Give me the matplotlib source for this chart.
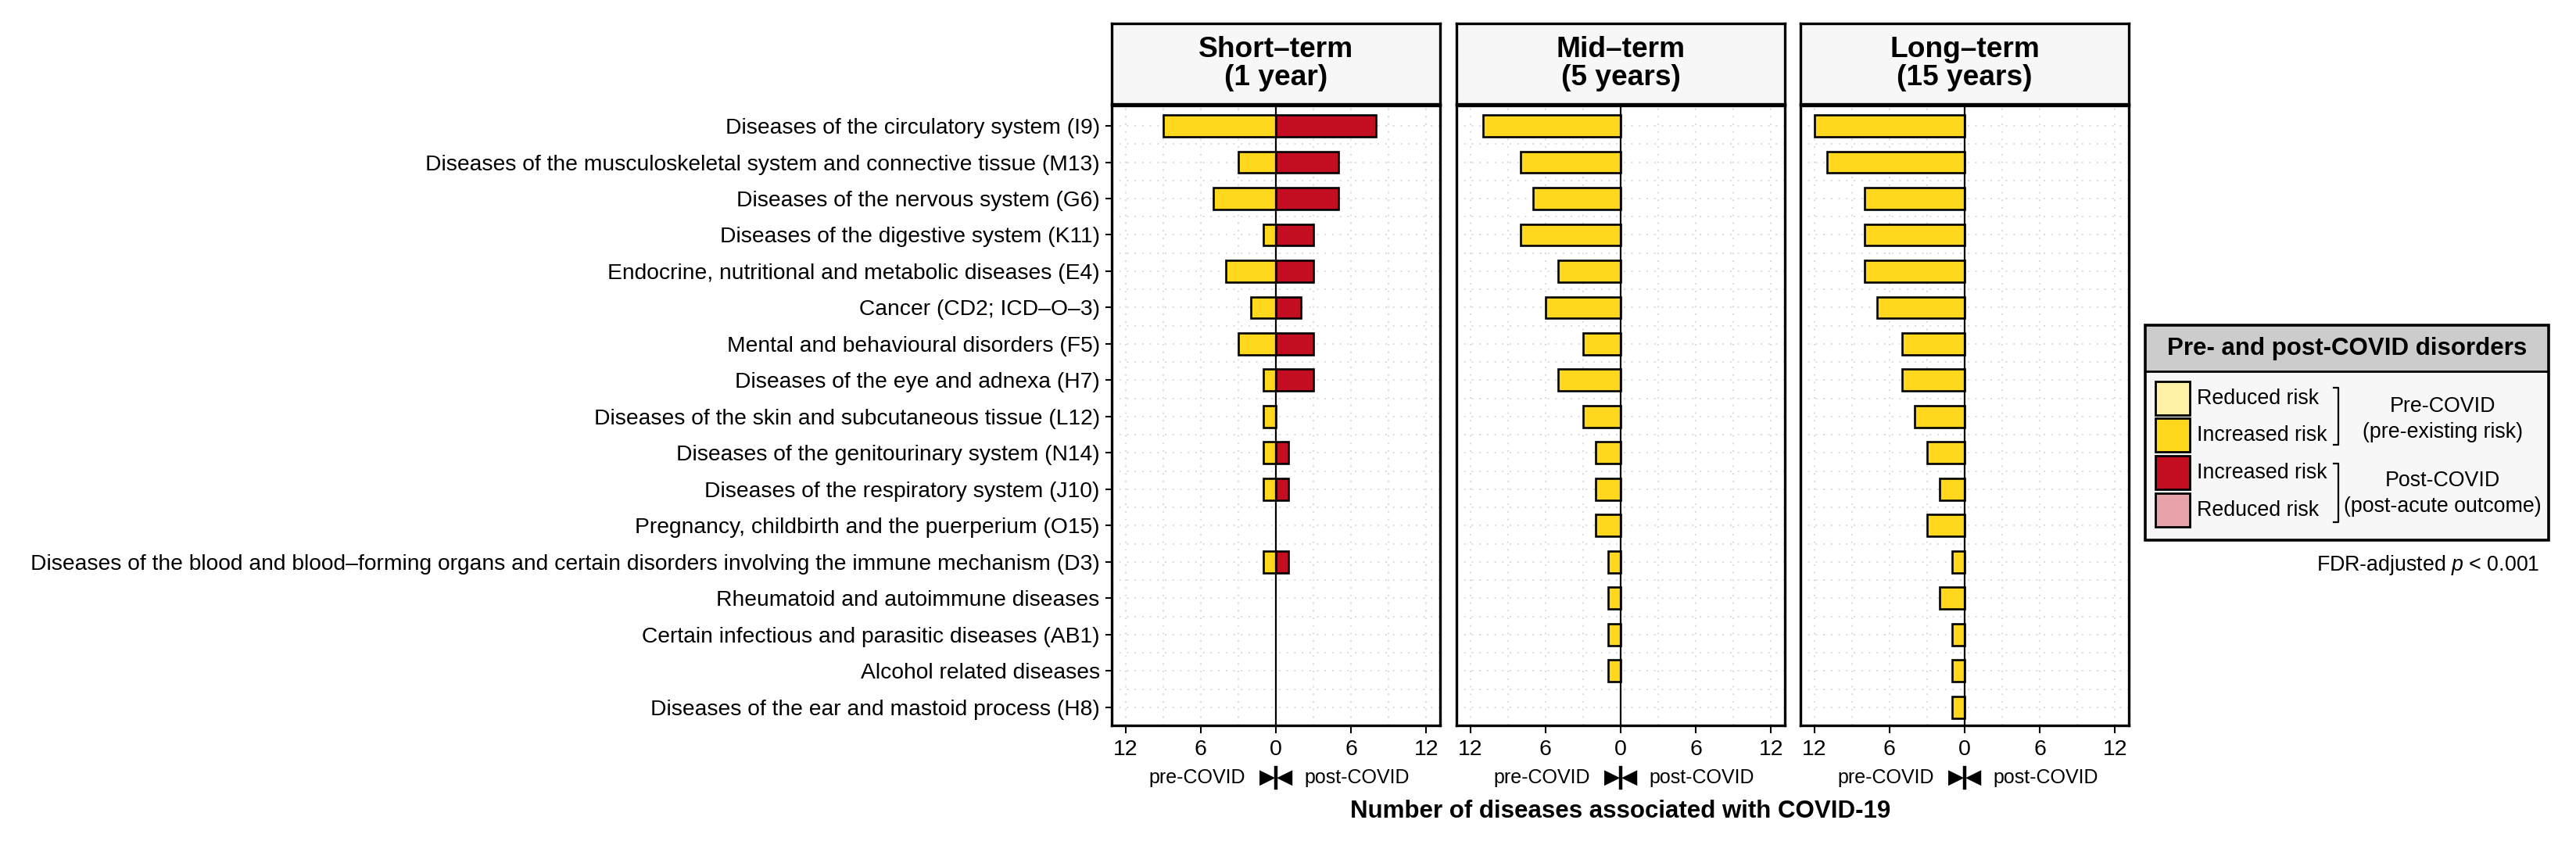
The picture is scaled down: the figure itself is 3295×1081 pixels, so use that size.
import numpy as np
import matplotlib
matplotlib.use("Agg")
import matplotlib.pyplot as plt
from matplotlib.patches import Rectangle
from matplotlib.lines import Line2D
from matplotlib.transforms import blended_transform_factory

plt.rcParams['font.family'] = ['Liberation Sans', 'DejaVu Sans']
plt.rcParams['mathtext.fontset'] = 'custom'
plt.rcParams['mathtext.rm'] = 'Liberation Sans'
plt.rcParams['mathtext.it'] = 'Liberation Sans:italic'

# ---------------- data ----------------
categories = [
    "Diseases of the circulatory system (I9)",
    "Diseases of the musculoskeletal system and connective tissue (M13)",
    "Diseases of the nervous system (G6)",
    "Diseases of the digestive system (K11)",
    "Endocrine, nutritional and metabolic diseases (E4)",
    "Cancer (CD2; ICD\u2013O\u20133)",
    "Mental and behavioural disorders (F5)",
    "Diseases of the eye and adnexa (H7)",
    "Diseases of the skin and subcutaneous tissue (L12)",
    "Diseases of the genitourinary system (N14)",
    "Diseases of the respiratory system (J10)",
    "Pregnancy, childbirth and the puerperium (O15)",
    "Diseases of the blood and blood\u2013forming organs and certain disorders involving the immune mechanism (D3)",
    "Rheumatoid and autoimmune diseases",
    "Certain infectious and parasitic diseases (AB1)",
    "Alcohol related diseases",
    "Diseases of the ear and mastoid process (H8)",
]
panel_titles = ["Short\u2013term\n(1 year)", "Mid\u2013term\n(5 years)", "Long\u2013term\n(15 years)"]
short_pre = [9, 3, 5, 1, 4, 2, 3, 1, 1, 1, 1, 0, 1, 0, 0, 0, 0]
short_post = [8, 5, 5, 3, 3, 2, 3, 3, 0, 1, 1, 0, 1, 0, 0, 0, 0]
mid_pre = [11, 8, 7, 8, 5, 6, 3, 5, 3, 2, 2, 2, 1, 1, 1, 1, 0]
mid_post = [0] * 17
long_pre = [12, 11, 8, 8, 8, 7, 5, 5, 4, 3, 2, 3, 1, 2, 1, 1, 1]
long_post = [0] * 17
x_ticks = [-12, -6, 0, 6, 12]
x_tick_labels = ["12", "6", "0", "6", "12"]

legend_title = "Pre- and post-COVID disorders"
legend_keys = ["Reduced risk", "Increased risk", "Increased risk", "Reduced risk"]
legend_groups = [("Pre-COVID", "(pre-existing risk)"), ("Post-COVID", "(post-acute outcome)")]

# ---------------- style ----------------
c_pre_inc = "#FFD71C"
c_pre_red = "#FFF1A6"
c_post_inc = "#C20E20"
c_post_red = "#E8A2A9"
legend_colors = [c_pre_red, c_pre_inc, c_post_inc, c_post_red]
grid_col = "#DADADA"

W, H = 3295, 1081
fig = plt.figure(figsize=(W / 100, H / 100), dpi=100)

panel_left_px = [1422, 1863, 2303]
panel_w_px = 420
panel_top_px, panel_bot_px = 135, 928
strip_top_px, strip_bot_px = 30, 133

def fx(px):
    return px / W

def fy(py):
    return 1 - py / H

series = [(short_pre, short_post), (mid_pre, mid_post), (long_pre, long_post)]
n = len(categories)
ypos = np.arange(n)
axes = []
for i, (pre, post) in enumerate(series):
    ax = fig.add_axes([fx(panel_left_px[i]), fy(panel_bot_px), fx(panel_w_px),
                       (panel_bot_px - panel_top_px) / H])
    axes.append(ax)
    pre = np.array(pre)
    post = np.array(post)
    m = pre > 0
    ax.barh(ypos[m], -pre[m], height=0.6, color=c_pre_inc, edgecolor="black",
            linewidth=1.9, zorder=3)
    m2 = post > 0
    ax.barh(ypos[m2], post[m2], height=0.6, color=c_post_inc, edgecolor="black",
            linewidth=1.9, zorder=3)
    ax.axvline(0, color="black", linewidth=1.6, zorder=4)
    ax.set_xlim(-13.1, 13.1)
    ax.set_ylim(n - 1 + 0.5, -0.56)
    ax.set_xticks(x_ticks)
    ax.set_xticklabels(x_tick_labels, fontsize=20.5)
    ax.set_xticks([-9, -3, 3, 9], minor=True)
    ax.set_yticks(ypos)
    ax.set_yticks(ypos[:-1] + 0.5, minor=True)
    if i == 0:
        ax.set_yticklabels(categories, fontsize=20.3)
    else:
        ax.set_yticklabels([])
    ax.tick_params(axis="both", which="minor", length=0)
    ax.tick_params(axis="x", which="major", length=7, width=1.5, pad=6)
    ax.tick_params(axis="y", which="major", width=1.5, length=6 if i == 0 else 0, pad=5)
    ax.grid(True, which="both", color=grid_col, linestyle=(0, (1, 4)), linewidth=1.4, zorder=0)
    ax.set_axisbelow(True)
    for s in ax.spines.values():
        s.set_linewidth(2.4)
    # pre / post annotation under axis
    tr = blended_transform_factory(ax.transData, ax.transAxes)
    yy = (panel_bot_px - 995) / (panel_bot_px - panel_top_px)
    ax.text(-2.45, yy, "pre-COVID", ha="right", va="center", fontsize=18, transform=tr)
    ax.text(2.3, yy, "post-COVID", ha="left", va="center", fontsize=18, transform=tr)
    ax.text(-0.08, yy, "\u25B6", ha="right", va="center", fontsize=19,
            family=["DejaVu Sans"], transform=tr)
    ax.text(0.08, yy, "\u25C0", ha="left", va="center", fontsize=19,
            family=["DejaVu Sans"], transform=tr)
    ax.add_line(Line2D([0, 0], [yy - 0.017, yy + 0.017], color="black", linewidth=3.2,
                       transform=tr, clip_on=False))
    # strip
    sax = fig.add_axes([fx(panel_left_px[i]), fy(strip_bot_px), fx(panel_w_px),
                        (strip_bot_px - strip_top_px) / H])
    sax.set_facecolor("#F7F7F7")
    sax.set_xticks([])
    sax.set_yticks([])
    for s in sax.spines.values():
        s.set_linewidth(2.4)
    sax.text(0.5, 0.5, panel_titles[i], ha="center", va="center", fontsize=26.7,
             fontweight="bold", linespacing=1.02, transform=sax.transAxes)

# x-axis title centred on middle panel
axm = axes[1]
axm.text(0.5, (panel_bot_px - 1038) / (panel_bot_px - panel_top_px),
         "Number of diseases associated with COVID-19", ha="center", va="center",
         fontsize=22.5, fontweight="bold", transform=axm.transAxes)

# ---------------- legend ----------------
L0, T0, LW, LH = 2744, 416, 516, 275
lax = fig.add_axes([fx(L0), fy(T0 + LH), fx(LW), LH / H])
lax.set_xlim(0, LW)
lax.set_ylim(LH, 0)
lax.axis("off")
lax.add_patch(Rectangle((0, 0), LW, LH, facecolor="#F7F7F7", edgecolor="none", zorder=0))
lax.add_patch(Rectangle((0, 0), LW, 59, facecolor="#CCCCCC", edgecolor="none", zorder=1))
lax.add_line(Line2D([0, LW], [59, 59], color="black", linewidth=2.0, zorder=2))
lax.add_patch(Rectangle((0, 0), LW, LH, facecolor="none", edgecolor="black",
                        linewidth=2.6, zorder=3, clip_on=False))
lax.text(LW / 2, 30, legend_title, ha="center", va="center", fontsize=22.5,
         fontweight="bold")
key_tops = [72, 119, 167, 215]
for kt, col, lab in zip(key_tops, legend_colors, legend_keys):
    lax.add_patch(Rectangle((13, kt), 44, 43, facecolor=col, edgecolor="black",
                            linewidth=2.0, zorder=2))
    lax.text(66, kt + 22, lab, ha="left", va="center", fontsize=19.3)
# brackets
for (b0, b1) in [(80, 153), (177, 252)]:
    lax.add_line(Line2D([241, 247, 247, 241], [b0, b0, b1, b1], color="black", linewidth=1.6))
for (g1, g2), yc in zip(legend_groups, [104, 199]):
    lax.text(380, yc, g1, ha="center", va="center", fontsize=19.3)
    lax.text(380, yc + 33, g2, ha="center", va="center", fontsize=19.3)

fig.text(fx(3248), fy(723), "FDR-adjusted $p$ < 0.001", ha="right", va="center", fontsize=19.3)

fig.savefig("out.png", dpi=100, facecolor="white")
